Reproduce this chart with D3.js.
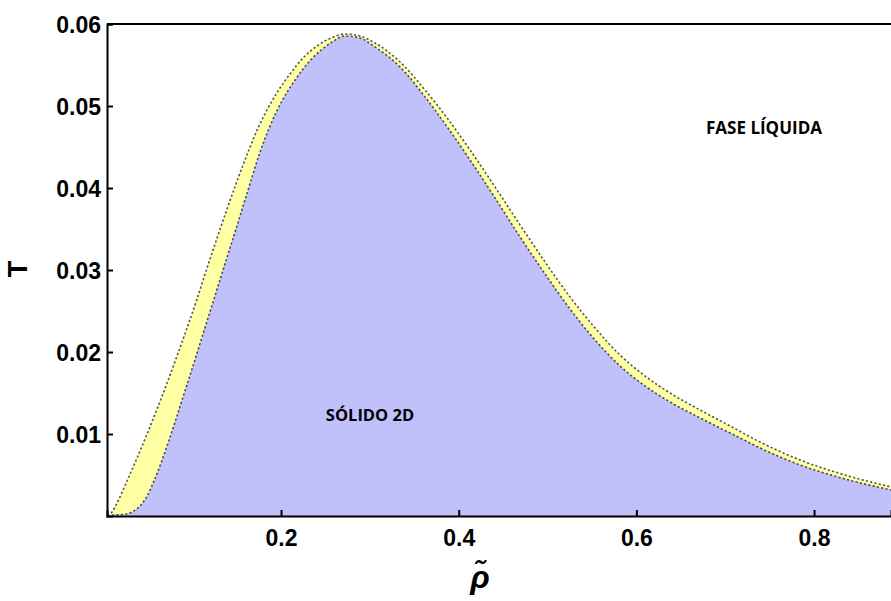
<!DOCTYPE html>
<html>
<head>
<meta charset="utf-8">
<script src="https://cdn.jsdelivr.net/npm/d3@7"></script>
<style>
  html, body { margin: 0; padding: 0; background: #fff; }
  svg { display: block; }
</style>
</head>
<body>
<svg id="chart" width="891" height="601"></svg>
<script>
// ---- data ----
// outer (dotted) boundary of the coexistence band
const outerRho = [0.0041, 0.0098, 0.0154, 0.0266, 0.0379, 0.0492, 0.0604, 0.0717, 0.0829, 0.0942, 0.1054, 0.1167, 0.1280, 0.1392, 0.1505, 0.1629, 0.1741, 0.1854, 0.1966, 0.2101, 0.2248, 0.2405, 0.2563, 0.2721,
                  0.2889, 0.3058, 0.3340, 0.3621, 0.3903, 0.4128, 0.4409, 0.4691, 0.4972, 0.5253, 0.5535, 0.5816, 0.6098, 0.6379, 0.6717, 0.7055, 0.7392, 0.7843, 0.8349, 0.8867];
const outerT   = [0.00012, 0.00049, 0.00159, 0.00427, 0.00707, 0.0100, 0.01305, 0.01622, 0.01951, 0.02293, 0.02646, 0.03024, 0.03390, 0.03744, 0.04085, 0.04439, 0.04732, 0.04976, 0.05183, 0.05390, 0.05585, 0.05732, 0.05829, 0.05878,
                  0.05854, 0.05768, 0.05537, 0.05195, 0.04805, 0.04463, 0.04012, 0.03549, 0.03098, 0.02671, 0.02293, 0.01963, 0.01707, 0.01500, 0.01293, 0.01098, 0.00902, 0.00683, 0.00500, 0.00354];
// inner boundary (edge of the 2D solid region)
const innerRho = [0.0098, 0.0221, 0.0323, 0.0413, 0.0492, 0.0570, 0.0649, 0.0728, 0.0807, 0.0886, 0.0998, 0.1111, 0.1235, 0.1358, 0.1493, 0.1629, 0.1764, 0.1876, 0.2011, 0.2158, 0.2304, 0.2439, 0.2574, 0.2721,
                  0.2889, 0.3058, 0.3340, 0.3621, 0.3903, 0.4128, 0.4409, 0.4691, 0.4972, 0.5253, 0.5535, 0.5816, 0.6098, 0.6379, 0.6717, 0.7055, 0.7392, 0.7843, 0.8349, 0.8867];
const innerT   = [0.00012, 0.00018, 0.00049, 0.00122, 0.00244, 0.00427, 0.00646, 0.00890, 0.01146, 0.01415, 0.01793, 0.02183, 0.02610, 0.03037, 0.03500, 0.03976, 0.04439, 0.04756, 0.05061, 0.05317, 0.05524, 0.05671, 0.05780, 0.05854,
                  0.05829, 0.05720, 0.05476, 0.05110, 0.04695, 0.04341, 0.03878, 0.03402, 0.02951, 0.02524, 0.02146, 0.01829, 0.01585, 0.01390, 0.01195, 0.01012, 0.00829, 0.00622, 0.00451, 0.00317];
const xTicks = [0.2, 0.4, 0.6, 0.8];
const yTicks = [0.01, 0.02, 0.03, 0.04, 0.05, 0.06];
const regionLabels = ["FASE LÍQUIDA", "SÓLIDO 2D"];
const axisLabels = ["T", "ρ̃"];

const svg = d3.select("#chart");
const pL = 107, pR = 891, pT = 24, pB = 516;

const x = d3.scaleLinear().domain([0.0041, 0.8866]).range([pL, pR]);
const y = d3.scaleLinear().domain([0, 0.06]).range([pB, pT]);

svg.append("clipPath").attr("id", "clip")
  .append("rect").attr("x", pL).attr("y", pT).attr("width", pR - pL).attr("height", pB - pT);

const outer = outerRho.map((r, i) => [r, outerT[i]]);
const inner = innerRho.map((r, i) => [r, innerT[i]]);

const area = d3.area().x(d => x(d[0])).y0(y(0)).y1(d => y(d[1])).curve(d3.curveMonotoneX);
const line = d3.line().x(d => x(d[0])).y(d => y(d[1])).curve(d3.curveMonotoneX);

const g = svg.append("g").attr("clip-path", "url(#clip)");
g.append("path").datum(outer).attr("d", area).attr("fill", "#ffffa3");
g.append("path").datum(inner).attr("d", area).attr("fill", "#c0c0fb");
g.append("path").datum(inner).attr("d", line).attr("fill", "none")
  .attr("stroke", "#4a4a55").attr("stroke-width", 1.6).attr("stroke-dasharray", "2.2,2.2");
g.append("path").datum(outer).attr("d", line).attr("fill", "none")
  .attr("stroke", "#555").attr("stroke-width", 1.6).attr("stroke-dasharray", "2.2,2.2");

// frame
svg.append("line").attr("x1", pL).attr("x2", pR).attr("y1", pT).attr("y2", pT)
  .attr("stroke", "#000").attr("stroke-width", 2);

const xAxis = d3.axisBottom(x).tickValues(xTicks).tickSize(-6).tickPadding(14).tickFormat(d3.format(".1f"));
const yAxis = d3.axisLeft(y).tickValues(yTicks).tickSize(-6).tickPadding(6).tickFormat(d3.format(".2f"));

const gx = svg.append("g").attr("transform", `translate(0,${pB})`).call(xAxis);
const gy = svg.append("g").attr("transform", `translate(${pL},0)`).call(yAxis);
[gx, gy].forEach(a => {
  a.select(".domain").attr("stroke", "#000").attr("stroke-width", 2);
  a.selectAll(".tick line").attr("stroke", "#000").attr("stroke-width", 2);
  a.selectAll(".tick text").attr("fill", "#000")
    .style("font-family", "'Liberation Sans', Arial, sans-serif")
    .style("font-weight", "bold").style("font-size", "23px");
});
gx.selectAll(".tick text").attr("dy", "0.71em");
gy.selectAll(".tick text").attr("dy", "0.35em");

svg.append("text").text(axisLabels[0])
  .attr("transform", "translate(27,269) rotate(-90)")
  .attr("text-anchor", "middle")
  .style("font-family", "'Liberation Sans', Arial, sans-serif")
  .style("font-weight", "bold").style("font-size", "27px");

svg.append("text").text(axisLabels[1])
  .attr("x", 480).attr("y", 588)
  .attr("text-anchor", "middle")
  .style("font-family", "'Liberation Sans', Arial, sans-serif")
  .style("font-weight", "bold").style("font-style", "italic").style("font-size", "32px");

svg.append("text").text(regionLabels[0])
  .attr("x", 764).attr("y", 134).attr("text-anchor", "middle")
  .style("font-family", "'Open Sans', sans-serif").style("font-weight", "bold").style("font-size", "17px");
svg.append("text").text(regionLabels[1])
  .attr("x", 370).attr("y", 421).attr("text-anchor", "middle")
  .style("font-family", "'Open Sans', sans-serif").style("font-weight", "bold").style("font-size", "16.5px");
</script>
</body>
</html>
